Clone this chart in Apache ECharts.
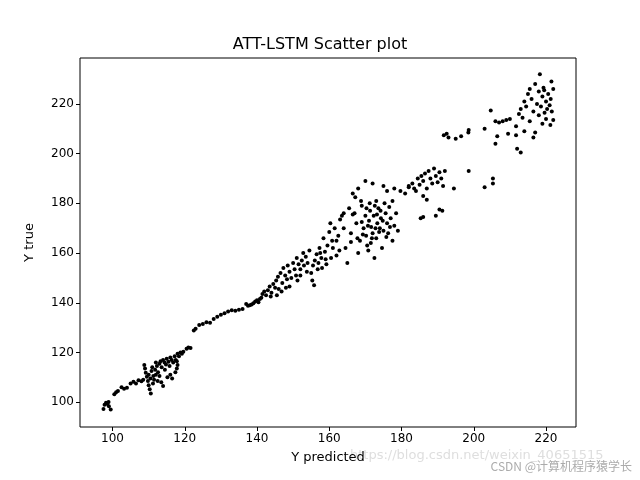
<!DOCTYPE html>
<html><head><meta charset="utf-8">
<script src="https://cdn.jsdelivr.net/npm/echarts@6/dist/echarts.min.js"></script>
<style>html,body{margin:0;padding:0;background:#fff}#c{width:640px;height:480px}</style>
</head><body><div id="c"></div>
<script>
const xTicks = [100,120,140,160,180,200,220];
const yTicks = [100,120,140,160,180,200,220];
const lowPoints = [[97.5,97.2],[97.8,99],[98.2,99.8],[98.6,99.3],[99,98.4],[99.5,97],[98.9,100.1],
[100.5,103.2],[101,104],[101.5,104.5],[102.5,106],[103.2,105.4],[104,105.8],[105,107.5],[105.8,108.2],[106.5,107.5],[107.2,108.8],[108,108.4],[108.5,109],
[108.8,115],[109,113.5],[109.2,111.8],[109.5,110.2],[109.8,108.5],[110,106.8],[110.3,105.2],[110.6,103.5],[110,111],[110.8,112.5],[111,114],[111.3,110.5],[111.5,109],[111.8,113],[112,116],[112.3,114.5],[112.6,112],[113,115.5],[113.3,116.5],[113.6,114],[114,117],[114.4,116],[114.8,115.2],[115,117.5],[115.5,116.3],[116,118],[116.4,117],[116.8,116],[117.2,118.5],[117.5,117],[117.8,116.5],[118,119.5],[118.4,118.5],[118.8,120],[119.2,119.5],[119.6,120.3],[113.5,108],[114,106.5],[115.2,110],[116,111],[116.5,109.5],[117.4,112],[117.8,113.5],[118,115],[112.5,108.5],[113,110.5],[111.2,107.5],[110.5,109.5],[112,111],[114.5,113],[115.8,114.5],
[120.5,121.5],[121,122],[121.6,121.8],[122.5,128.8],[123,129.5],[124,131],[125,131.5],[126,132.2],[127,132],[128,133.5],[129,134.4],[130,135.2],[131,135.8],[132,136.5],[133,137],[134,136.8],[135,137.2],[136,137.5],[137,139.5],[137.5,138.8],[138,139],[138.5,139.3],[139,139.8],[139.5,140.5],[140,141],[140.4,140.2],[140.8,141.5],[141.2,142]];
const midPoints = [[141.5,143.5],[142,144.5],[142.5,143],[143,145],[143.5,146.5],[144,144],[144.5,147.5],[145,146],[145.3,149],[145.8,150.5],[146,145.5],[146.5,152],[147,148],[147.3,154],[147.8,151],[148,146],[148.5,155],[149,152.5],[149.5,150],[150,156],[150.4,153.5],[150.8,151],[151,158],[151.5,155.5],[152,153.5],[152.4,157],[152.8,160],[153,155],[153.5,158.5],[154,156],[154.5,161],[155,152],[155.3,149],[155.8,147],[156,157],[156.5,159.5],[157,156],[157.3,162],[157.8,158],[158,154],[158.4,166],[158.8,160.5],[159,157.5],[159.5,163],[160,168.5],[160.3,172],[160.8,165],[161,162],[161.5,170],[162,159],[162.5,167],[163,173.5],[163.5,175],[164,170],[164.5,162],[165,156],[165.5,178],[166,168],[166.5,184],[167,176],[167.5,172],[168,186],[168.5,165],[169,179],[169.5,170],[170,175],[170.2,167],[170.5,163],[170.8,161],[171,173],[171.3,177],[171.6,170.5],[172,168],[172.3,175],[172.6,179],[173,166],[173.3,172],[173.6,178],[174,170],[174.3,174],[174.6,162],[175,169],[175.3,180],[175.6,176],[176,172],[176.3,168],[176.6,178.5],[177,174],[177.5,165],[178,171],[178.5,176],[179,169],[171.5,164],[172.5,158],[168,160],[170,189],[172,188],[175,187],[177.5,181],[178,186],[182,187],[183.5,186],[166.5,175.5],[164,176],[162,165],[169,172.5],[173,181],[176,185],
[143.8,142.5],[145.5,143],[146.8,144.5],[148.3,149.5],[149,146.5],[151.2,149],[152,151],[153.8,152.5],[155.5,155],[156.8,153.5],[157.5,160],[159.2,155.5],[160.5,158],[162.8,161],[166,164.5],[167.8,166],[169.3,167.5],[170.7,171],[171.8,166],[172.8,170],[173.8,168.5],[174.8,173],[175.8,166.5],[176.8,170.5],[174.2,177],[173.2,175.5],[171.2,180],[170.3,178],[168.8,181],[167.2,182.5]];
const highPoints = [[179.7,185],[181,184],[182,186.5],[183,188],[184,185],[184.5,190],[185,187.5],[185.5,191],[186,189],[186.5,192],[187,186],[187.5,193],[188,190],[188.5,188],[189,194],[189.5,191],[190,188.5],[190.5,192.5],[191,190],[191.5,187],[192,193],[186,183],[187,181.5],[185.3,174],[186,174.5],[189.5,175],[190.5,177.5],[191.3,177],[194.5,186],[198.6,193],[203,186.5],[205.3,190],[205.3,188],
[191.7,207.4],[192.5,208],[193,206.5],[195,206],[196.5,207],[198.5,208.5],[198.6,209.5],[203,210],[204.7,217.4],[206,213],[207,212.5],[208,213],[209,213.5],[210,214],[206.5,207],[206,204],[209.5,208],[211.7,207.4],[212,202],[213,200.5],
[211.7,211],[212.5,216],[213,218],[213.5,214.5],[214,221],[214.5,219],[215,224],[215.5,226],[216,222],[216.5,217],[217,228],[217.5,220],[218,225],[218.3,232],[218.6,219],[219,223],[219.3,226.5],[219.6,216.5],[220,221],[220.3,218],[220.6,224],[221,219.5],[221.3,222],[221.6,217],[222,226],[222,213.5],[221.2,211.5],[219,212],[214,209],[215.5,213],[216.5,206.5],[217,208.5],[218,215.5],[220,214],[219.5,225.5],[221.5,229]];
const points = lowPoints.concat(midPoints, highPoints);

const chart = echarts.init(document.getElementById('c'));
chart.setOption({
  animation:false,
  title:{text:'ATT-LSTM Scatter plot',left:'center',top:32,textStyle:{fontFamily:'DejaVu Sans',fontSize:16,fontWeight:'normal',color:'#000'}},
  grid:{left:80,right:64,top:58,bottom:53,show:true,borderColor:'#000',borderWidth:1},
  xAxis:{type:'value',min:91,max:228.3,name:'Y predicted',nameLocation:'middle',nameGap:24,
    nameTextStyle:{fontFamily:'DejaVu Sans',fontSize:13,color:'#000'},
    axisLine:{show:false},splitLine:{show:false},
    axisTick:{show:true,length:4,lineStyle:{color:'#000'},customValues:xTicks},
    axisLabel:{fontFamily:'DejaVu Sans',fontSize:12,color:'#000',customValues:xTicks,margin:6}},
  yAxis:{type:'value',min:90,max:238.5,name:'Y true',nameLocation:'middle',nameGap:44,
    nameTextStyle:{fontFamily:'DejaVu Sans',fontSize:13,color:'#000'},
    axisLine:{show:false},splitLine:{show:false},
    axisTick:{show:true,length:4,lineStyle:{color:'#000'},customValues:yTicks},
    axisLabel:{fontFamily:'DejaVu Sans',fontSize:12,color:'#000',customValues:yTicks,margin:6}},
  graphic:[{type:'text',right:8,bottom:8,style:{text:'CSDN @计算机程序猿学长',fill:'rgba(150,150,150,0.8)',font:'12px "Noto Sans CJK SC"'}},
           {type:'text',left:350,bottom:18,style:{text:'https://blog.csdn.net/weixin_40651515',fill:'rgba(200,200,200,0.6)',font:'13px "DejaVu Sans"'}}],
  series:[{type:'scatter',data:points,symbolSize:4,itemStyle:{color:'#000',opacity:1}}]
});
</script></body></html>
